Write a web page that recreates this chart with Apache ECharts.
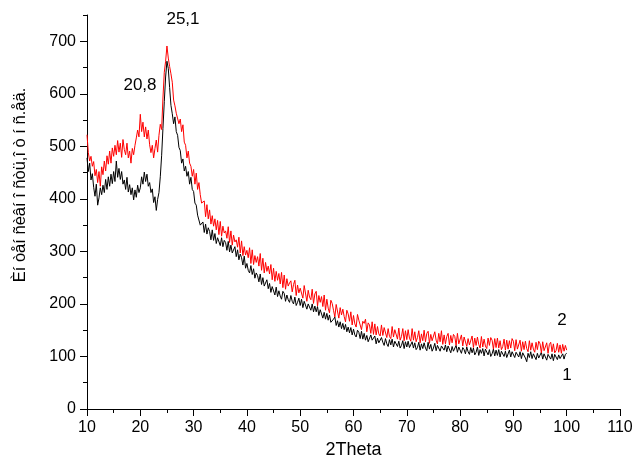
<!DOCTYPE html>
<html>
<head>
<meta charset="utf-8">
<script src="https://cdn.jsdelivr.net/npm/echarts@6/dist/echarts.min.js"></script>
<style>
  html, body { margin: 0; padding: 0; background: #fff; }
  #chart { width: 633px; height: 455px; }
</style>
</head>
<body>
<div id="chart"></div>
<script>
// 2Theta grid: 10 .. 100, step 0.25
const thetaStart = 10;
const thetaStep = 0.25;

// curve 1 (black)
const curve1 = [
  478, 452, 468, 436, 448, 422, 405, 428, 388, 402, 421, 408, 426, 412, 437, 418,
  442, 424, 447, 429, 452, 433, 472, 441, 458, 437, 452, 428, 436, 418, 441, 413,
  427, 408, 421, 398, 417, 403, 426, 412, 421, 442, 428, 451, 433, 447, 424, 431,
  412, 419, 393, 404, 378, 399, 412, 442, 482, 534, 585, 632, 662, 648, 612, 578,
  562, 543, 556, 528, 521, 498, 492, 468, 476, 453, 462, 443, 452, 428, 441, 418,
  414, 392, 388, 369, 367, 350, 349, 356, 336, 352, 333, 345, 338, 322, 341, 321,
  334, 315, 326, 329, 311, 326, 309, 321, 317, 302, 319, 299, 312, 297, 294, 309,
  290, 303, 284, 295, 288, 274, 291, 268, 277, 264, 259, 273, 256, 267, 249, 259,
  254, 242, 257, 237, 250, 234, 232, 246, 229, 239, 222, 233, 231, 217, 232, 214,
  225, 215, 209, 224, 220, 205, 217, 208, 203, 216, 205, 200, 213, 197, 203, 211,
  197, 209, 193, 205, 206, 190, 200, 202, 188, 200, 185, 196, 185, 195, 178, 189,
  188, 173, 184, 171, 182, 169, 179, 165, 168, 171, 175, 159, 168, 156, 166, 153,
  163, 151, 161, 147, 156, 145, 155, 141, 152, 141, 137, 150, 146, 134, 148, 133,
  144, 131, 140, 128, 127, 141, 131, 134, 139, 124, 135, 126, 123, 136, 127, 121,
  134, 124, 119, 132, 122, 133, 118, 129, 131, 119, 129, 116, 121, 130, 115, 128,
  118, 129, 117, 114, 128, 116, 126, 113, 117, 127, 112, 124, 115, 126, 116, 111,
  127, 114, 123, 110, 116, 125, 111, 121, 124, 110, 120, 117, 112, 122, 109, 120,
  121, 107, 119, 110, 109, 121, 108, 118, 120, 106, 117, 113, 105, 118, 109, 104,
  117, 107, 116, 103, 108, 118, 102, 113, 106, 115, 101, 114, 116, 103, 113, 100,
  105, 114, 101, 112, 102, 113, 99, 110, 112, 100, 110, 98, 101, 112, 99, 109,
  110, 98, 108, 111, 99, 109, 96, 107, 108, 97, 90, 106, 98, 109, 96, 105,
  107, 94, 106, 97, 96, 108, 95, 105, 106, 93, 104, 107, 95, 105, 92, 104,
  106, 94, 103, 96, 93, 105, 95, 104, 106
];

// curve 2 (red)
const curve2 = [
  522, 488, 472, 481, 462, 471, 444, 456, 431, 452, 424, 461, 446, 472, 453, 482,
  466, 491, 468, 497, 481, 502, 484, 511, 489, 506, 479, 513, 494, 484, 506, 478,
  491, 468, 496, 484, 502, 516, 531, 518, 561, 528, 546, 518, 537, 514, 531, 503,
  488, 502, 478, 496, 512, 489, 521, 542, 532, 592, 641, 662, 691, 668, 652, 638,
  622, 588, 577, 563, 561, 543, 552, 528, 541, 508, 502, 478, 491, 468, 462, 443,
  456, 428, 449, 418, 431, 408, 392, 391, 396, 366, 389, 362, 379, 352, 368, 348,
  362, 341, 359, 332, 357, 329, 348, 335, 339, 325, 347, 317, 339, 312, 331, 318,
  322, 308, 327, 297, 320, 292, 309, 293, 302, 288, 307, 277, 303, 275, 292, 279,
  290, 272, 296, 264, 287, 259, 279, 262, 272, 257, 275, 246, 268, 243, 262, 245,
  258, 238, 260, 231, 255, 228, 248, 234, 240, 244, 223, 237, 245, 216, 236, 221,
  230, 228, 211, 235, 233, 205, 226, 213, 208, 228, 201, 219, 224, 196, 216, 203,
  214, 195, 217, 188, 209, 192, 183, 207, 201, 188, 175, 199, 197, 173, 193, 179,
  190, 176, 166, 188, 181, 167, 185, 160, 178, 162, 156, 180, 169, 167, 151, 167,
  163, 171, 147, 164, 160, 144, 166, 142, 162, 141, 157, 143, 139, 160, 140, 155,
  157, 136, 153, 138, 134, 157, 137, 151, 151, 133, 154, 131, 138, 153, 130, 149,
  132, 151, 135, 129, 153, 131, 147, 128, 136, 149, 126, 143, 130, 150, 128, 144,
  148, 125, 142, 130, 127, 147, 131, 124, 144, 128, 149, 123, 141, 124, 138, 144,
  122, 140, 126, 142, 138, 121, 144, 124, 126, 141, 120, 137, 140, 119, 134, 122,
  124, 139, 117, 135, 121, 137, 123, 116, 138, 118, 133, 120, 115, 135, 121, 136,
  131, 114, 134, 117, 135, 116, 130, 113, 119, 133, 112, 131, 114, 130, 116, 134,
  129, 111, 132, 114, 116, 131, 110, 128, 113, 129, 115, 109, 130, 112, 126, 114,
  108, 127, 113, 129, 124, 107, 128, 111, 112, 126, 106, 123, 127, 109, 124, 107,
  111, 125, 108, 122, 106, 123, 110, 121, 112
];

const yMajorTicks = [0, 100, 200, 300, 400, 500, 600, 700];
const yMinorTicks = [50, 150, 250, 350, 450, 550, 650, 750];
const peakLabels = ["25,1", "20,8"];
const curveLabels = ["2", "1"];

const font = 'Arial, "Liberation Sans", sans-serif';

function toPairs(values) {
  return values.map((v, i) => [thetaStart + i * thetaStep, v]);
}

var chart = echarts.init(document.getElementById("chart"));
var option = {
  animation: false,
  backgroundColor: "#fff",
  grid: { left: 87, right: 13, top: 15, bottom: 46, outerBoundsMode: "none", containLabel: false },
  xAxis: {
    type: "value",
    min: 10,
    max: 110,
    interval: 10,
    name: "2Theta",
    nameLocation: "middle",
    nameGap: 21,
    nameTextStyle: { fontFamily: font, fontSize: 18, color: "#000" },
    axisLine: { show: true, onZero: false, lineStyle: { color: "#000", width: 1 } },
    axisTick: { show: true, length: 7, lineStyle: { color: "#000" } },
    minorTick: { show: true, splitNumber: 2, length: 4, lineStyle: { color: "#000" } },
    axisLabel: { fontFamily: font, fontSize: 16, color: "#000", margin: 11 },
    splitLine: { show: false }
  },
  yAxis: [
    {
      type: "value",
      min: 0,
      max: 750,
      interval: 50,
      axisLine: { show: true, lineStyle: { color: "#000", width: 1 } },
      axisTick: { show: true, length: 7, customValues: yMajorTicks, lineStyle: { color: "#000" } },
      axisLabel: {
        fontFamily: font,
        fontSize: 16,
        color: "#000",
        margin: 11,
        customValues: yMajorTicks
      },
      splitLine: { show: false }
    },
    {
      type: "value",
      position: "left",
      min: 0,
      max: 750,
      interval: 50,
      axisLine: { show: false },
      axisTick: { show: true, length: 4, customValues: yMinorTicks, lineStyle: { color: "#000" } },
      axisLabel: { show: false },
      splitLine: { show: false }
    }
  ],
  graphic: [
    {
      type: "text",
      x: 20,
      y: 185,
      rotation: Math.PI / 2,
      style: {
        text: "Èí òåí ñèâí î ñòü,î ò í ñ.åä.",
        font: "16.5px " + font,
        fill: "#000",
        align: "center",
        verticalAlign: "middle"
      }
    },
    { type: "text", x: 183, y: 19, style: { text: peakLabels[0], font: "17px " + font, fill: "#000", align: "center", verticalAlign: "middle" } },
    { type: "text", x: 140, y: 85, style: { text: peakLabels[1], font: "17px " + font, fill: "#000", align: "center", verticalAlign: "middle" } },
    { type: "text", x: 562, y: 320, style: { text: curveLabels[0], font: "17px " + font, fill: "#000", align: "center", verticalAlign: "middle" } },
    { type: "text", x: 567, y: 375, style: { text: curveLabels[1], font: "17px " + font, fill: "#000", align: "center", verticalAlign: "middle" } }
  ],
  series: [
    {
      name: "1",
      type: "line",
      data: toPairs(curve1),
      showSymbol: false,
      lineStyle: { color: "#000", width: 1 },
      itemStyle: { color: "#000" }
    },
    {
      name: "2",
      type: "line",
      data: toPairs(curve2),
      showSymbol: false,
      lineStyle: { color: "#ff0000", width: 1 },
      itemStyle: { color: "#ff0000" }
    }
  ]
};
chart.setOption(option);
</script>
</body>
</html>
